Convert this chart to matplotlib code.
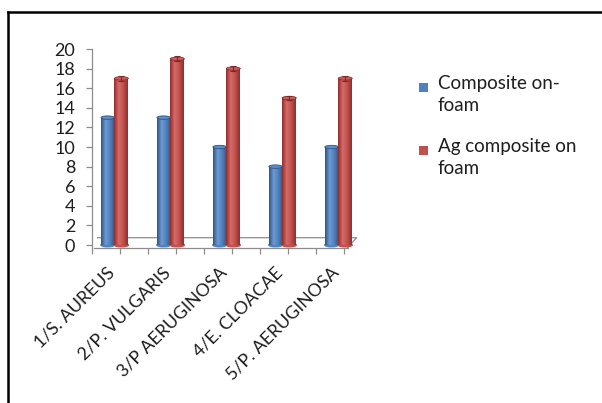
import numpy as np
import matplotlib.pyplot as plt
from matplotlib.patches import Ellipse, Rectangle
from matplotlib.lines import Line2D
from matplotlib.colors import LinearSegmentedColormap

plt.rcParams['font.family'] = ['Lato', 'DejaVu Sans']

strains = ['1/S. AUREUS', '2/P. VULGARIS', '3/P AERUGINOSA', '4/E. CLOACAE', '5/P. AERUGINOSA']
composite_foam = [13, 13, 10, 8, 10]
ag_composite_foam = [17, 19, 18, 15, 17]
series_names = ['Composite on-\nfoam', 'Ag composite on\nfoam']

blue = '#4F81BD'
red = '#C0504D'
text_col = '#1E1E1E'
axis_col = '#8C8C8C'

fig = plt.figure(figsize=(6.02, 4.03), dpi=100)
W, H = 602, 403
ax = fig.add_axes([92 / W, 1 - 247.5 / H, 277 / W, 198.5 / H])

# shaded cylinder: horizontal gradient clipped to the bar, with caps
def cylinder(ax, x0, width, height, c_edge, c_mid, c_light, c_top):
    cmap = LinearSegmentedColormap.from_list('cyl', [c_edge, c_light, c_mid, c_edge])
    grad = np.linspace(0, 1, 64).reshape(1, -1)
    ax.imshow(grad, cmap=cmap, extent=(x0, x0 + width, 0, height),
              aspect='auto', zorder=3, interpolation='bilinear')
    ax.add_patch(Ellipse((x0 + width / 2, 0), width, 0.35, color=c_mid, zorder=2.9))
    ax.add_patch(Ellipse((x0 + width / 2, height), width, 0.35,
                         facecolor=c_top, edgecolor=c_edge, lw=0.6, zorder=3.1))

x = np.arange(len(strains))
bw = 0.24
for i in range(len(strains)):
    cylinder(ax, x[i] - bw, bw, composite_foam[i], '#2E5485', blue, '#6E9BD3', '#5D8CC8')
    cylinder(ax, x[i], bw + 0.01, ag_composite_foam[i], '#8E2E2B', red, '#D86B68', '#CC5E5B')

ax.errorbar(x + bw / 2, ag_composite_foam, yerr=0.25, fmt='none',
            ecolor='#7A2725', elinewidth=0.8, capsize=2, capthick=0.8, zorder=4)

ax.set_xlim(-0.373, 4.55)
ax.set_ylim(-0.25, 20)

# back edge of the floor
ax.plot([-0.3, 4.33, 4.17], [0.75, 0.75, -0.25], color=axis_col, lw=0.9,
        clip_on=False, zorder=1)

for s in ['top', 'right']:
    ax.spines[s].set_visible(False)
for s in ['left', 'bottom']:
    ax.spines[s].set_color(axis_col)
    ax.spines[s].set_linewidth(0.9)
ax.spines['left'].set_bounds(-0.25, 20)
ax.spines['bottom'].set_bounds(-0.373, 4.17)

ax.set_yticks(range(0, 21, 2))
ax.tick_params(axis='y', direction='out', length=4, width=0.9, color=axis_col,
               labelsize=13, labelcolor=text_col, pad=8)

ax.set_xticks(x - 0.14)
ax.set_xticklabels(strains, rotation=45, ha='right', va='top',
                   rotation_mode='anchor', fontsize=12.8, color=text_col)
ax.tick_params(axis='x', which='major', length=0, pad=12)
ax.set_xticks(np.concatenate([x + 0.1, x - 0.4]), minor=True)
ax.tick_params(axis='x', which='minor', direction='out', length=4.5,
               width=0.9, color=axis_col)

# legend: square key beside a two-line label
for k, (name, col) in enumerate(zip(series_names, [blue, red])):
    base = 87 + k * 63
    fig.add_artist(Rectangle((419 / W, 1 - (base + 5) / H), 9 / W, 9 / H,
                             transform=fig.transFigure, facecolor=col, edgecolor='none'))
    # baseline alignment uses the last line, one line below the first
    fig.text(438 / W, 1 - (base + 24) / H, name, va='baseline', ha='left',
             fontsize=13.5, color=text_col, linespacing=1.38)

# outer frame along the top and left edges
fig.add_artist(Line2D([7.5 / W, 1.0], [1 - 11.5 / H, 1 - 11.5 / H],
                      transform=fig.transFigure, color='black', lw=1.8))
fig.add_artist(Line2D([7.5 / W, 7.5 / W], [1 - 11.5 / H, 0],
                      transform=fig.transFigure, color='black', lw=1.8))

fig.savefig('out.png', dpi=100)
